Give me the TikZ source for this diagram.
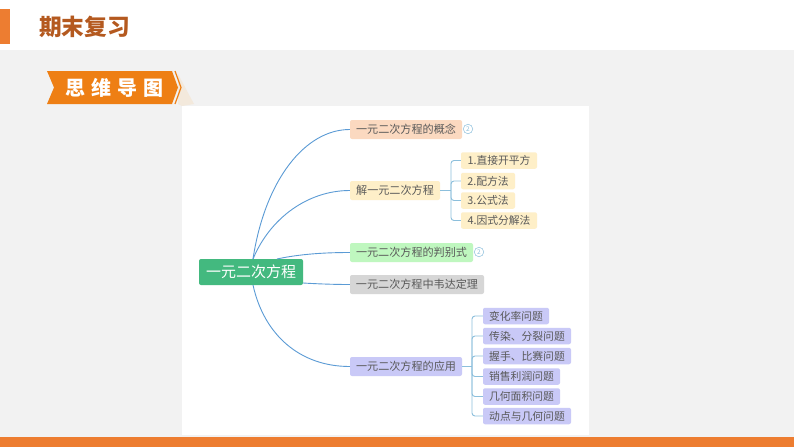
\documentclass[tikz,border=0pt]{standalone}
\usepackage{fontspec}
\setmainfont{Noto Sans CJK SC}
\definecolor{barorange}{HTML}{ED7D31}
\definecolor{bannerorange}{HTML}{EE7F14}
\definecolor{titlebrown}{HTML}{B4591F}
\definecolor{pagegray}{HTML}{F2F2F2}
\definecolor{shadowtan}{HTML}{F3E9DC}
\definecolor{linkblue}{HTML}{5B9BD5}
\definecolor{subblue}{HTML}{8CBFDC}
\definecolor{textgray}{HTML}{595959}
\definecolor{rootgreen}{HTML}{43B97F}
\definecolor{peachfill}{HTML}{FBD9C0}
\definecolor{creamfill}{HTML}{FEEFC8}
\definecolor{greenfill}{HTML}{BFF7BF}
\definecolor{grayfill}{HTML}{D6D6D6}
\definecolor{violetfill}{HTML}{C9C9F7}
\tikzset{
  rootbox/.style={fill=rootgreen,text=white,rounded corners=2pt,font=\fontsize{15}{15}\selectfont,minimum height=26,inner sep=0pt},
  topicbox/.style={rounded corners=2pt,text=textgray,font=\fontsize{11.1}{11}\selectfont,minimum height=19,inner sep=0pt},
  leafbox/.style={rounded corners=2pt,text=textgray,font=\fontsize{10.8}{11}\selectfont,minimum height=16.5,inner sep=0pt},
  morebadge/.style={circle,draw=subblue,text=subblue,line width=0.5pt,font=\fontsize{6.5}{7}\selectfont,minimum size=9.5,inner sep=0pt},
  mainlink/.style={linkblue,line width=0.9pt},
  sublink/.style={subblue,line width=0.9pt,rounded corners=3pt},
}
\begin{document}
\begin{tikzpicture}[x=1pt,y=-1pt]
 \useasboundingbox (0,0) rectangle (794,447);

 % page
 \fill [pagegray] (0,50) rectangle (794,437);
 \fill [barorange] (0,437) rectangle (794,447);
 \fill [barorange] (0,9) rectangle (10,44);
 \fill [shadowtan] (178,74) -- (194,104) -- (182,106) -- (178,104) -- cycle;
 \fill [white] (182,106) rectangle (589,435);
 \node (node_title) at (84.5,27) [text=titlebrown,font=\fontsize{22.7}{23}\selectfont\bfseries,inner sep=0pt] {期末复习};

 % banner
 \fill [bannerorange] (47,71) -- (172,71) -- (178,87.5) -- (172,104) -- (47,104) -- (54,87.5) -- cycle;
 \draw [bannerorange,line width=1.2pt] (175,71) -- (181,87.5) -- (175,104);
 \node (node_banner) at (114,88) [text=white,font=\fontsize{20}{20}\selectfont\bfseries,inner sep=0pt] {思\hspace{6pt}维\hspace{6pt}导\hspace{6pt}图};

 % mind map
 \node (node_root) at (251,272) [rootbox,minimum width=104] {一元二次方程};

 \node (node_concept) at (406,129.5) [topicbox,fill=peachfill,minimum width=112] {一元二次方程的概念};
 \node (node_solve) at (395,190.5) [topicbox,fill=creamfill,minimum width=90] {解一元二次方程};
 \node (node_disc) at (411.5,252.5) [topicbox,fill=greenfill,minimum width=123] {一元二次方程的判别式};
 \node (node_vieta) at (417,284.5) [topicbox,fill=grayfill,minimum width=134] {一元二次方程中韦达定理};
 \node (node_apply) at (406,366.5) [topicbox,fill=violetfill,minimum width=112] {一元二次方程的应用};

 \node (node_concept_more) at (468,129) [morebadge] {2};
 \node (node_disc_more) at (479,252) [morebadge] {2};

 \node (node_solve_1) at (499,160.5) [leafbox,fill=creamfill,minimum width=76] {1.直接开平方};
 \node (node_solve_2) at (488,181) [leafbox,fill=creamfill,minimum width=54] {2.配方法};
 \node (node_solve_3) at (488,200.5) [leafbox,fill=creamfill,minimum width=54] {3.公式法};
 \node (node_solve_4) at (499,220.5) [leafbox,fill=creamfill,minimum width=76] {4.因式分解法};

 \node (node_apply_1) at (516,316) [leafbox,fill=violetfill,minimum width=66] {变化率问题};
 \node (node_apply_2) at (527,336) [leafbox,fill=violetfill,minimum width=88] {传染、分裂问题};
 \node (node_apply_3) at (527,356) [leafbox,fill=violetfill,minimum width=88] {握手、比赛问题};
 \node (node_apply_4) at (521.5,376.5) [leafbox,fill=violetfill,minimum width=77] {销售利润问题};
 \node (node_apply_5) at (521.5,396.5) [leafbox,fill=violetfill,minimum width=77] {几何面积问题};
 \node (node_apply_6) at (527,416) [leafbox,fill=violetfill,minimum width=88] {动点与几何问题};

 \coordinate (root_top) at (253,259);
 \coordinate (root_bottom) at (253,285);
 \coordinate (root_right) at (277,259);
 \coordinate (root_side) at (303,283);
 \coordinate (solve_fork) at (451,190.5);
 \coordinate (apply_fork) at (472,366.5);

 \draw [mainlink] (root_top) .. controls (265,180) and (305,129.5) .. (node_concept.west);
 \draw [mainlink] (root_top) .. controls (270,218) and (308,190.5) .. (node_solve.west);
 \draw [mainlink] (root_right) .. controls (300,254) and (325,252.5) .. (node_disc.west);
 \draw [mainlink] (root_side) .. controls (320,284) and (335,284.5) .. (node_vieta.west);
 \draw [mainlink] (root_bottom) .. controls (264,335) and (300,366.5) .. (node_apply.west);

 \draw [sublink] (node_solve.east) -- (solve_fork);
 \foreach \i in {1,...,4} {
  \draw [sublink] (solve_fork) |- (node_solve_\i.west);
 }
 \draw [sublink] (node_apply.east) -- (apply_fork);
 \foreach \i in {1,...,6} {
  \draw [sublink] (apply_fork) |- (node_apply_\i.west);
 }
\end{tikzpicture}
\end{document}
